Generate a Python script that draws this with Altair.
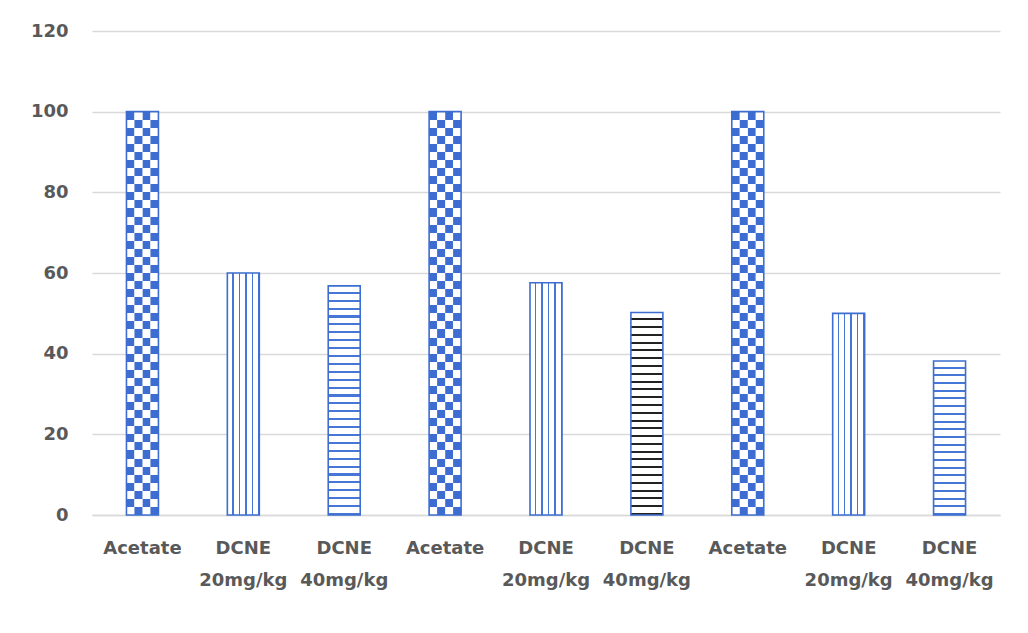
import altair as alt
import pandas as pd
import json

# ---- data ----
labels = ["Acetate", "DCNE|20mg/kg", "DCNE|40mg/kg",
          "Acetate", "DCNE|20mg/kg", "DCNE|40mg/kg",
          "Acetate", "DCNE|20mg/kg", "DCNE|40mg/kg"]
values = [100, 60, 56.8, 100, 57.6, 50.2, 100, 50, 38.2]
patterns = ["check", "vert", "horiz", "check", "vert", "horiz_black",
            "check", "vert", "horiz"]
y_ticks = [0, 20, 40, 60, 80, 100, 120]

BLUE = "#3D6DD0"
STRIPE = "#4676D6"
GRAY_TXT = "#595959"
GRID = "#D9D9D9"
FONT = "DejaVu Sans"

W, H = 908, 484
YMAX = 120
PX_PER_UNIT = H / YMAX

ids = list(range(len(values)))
df = pd.DataFrame({"id": ids, "value": values, "pattern": patterns})


def hard_stops(segments):
    stops = []
    for a, b, c in segments:
        stops.append(alt.GradientStop(offset=a, color=c))
        stops.append(alt.GradientStop(offset=b, color=c))
    return stops


def periodic(n, frac_line, line_color, bg="#ffffff"):
    segs = []
    for i in range(n):
        a = i / n
        b = (i + 1) / n
        m = a + (b - a) * (1 - frac_line)
        segs += [(a, m, bg), (m, b, line_color)]
    return hard_stops(segs)


def alternating(n, first, second):
    segs = []
    for i in range(n):
        c = first if i % 2 == 0 else second
        segs.append((i / n, (i + 1) / n, c))
    return hard_stops(segs)


label_js = json.dumps(labels)
x_enc = alt.X(
    "id:O",
    scale=alt.Scale(paddingInner=0.683, paddingOuter=0.3415),
    axis=alt.Axis(
        title=None,
        labelAngle=0,
        labelExpr=f"split({label_js}[datum.value], '|')",
        labelFont=FONT,
        labelFontWeight="bold",
        labelFontSize=18,
        labelColor=GRAY_TXT,
        labelLineHeight=32,
        labelPadding=24,
        labelOverlap=False,
        labelBaseline="top",
        ticks=False,
        domainColor=GRID,
        domainWidth=1.5,
        grid=False,
    ),
)
y_enc = alt.Y(
    "value:Q",
    scale=alt.Scale(domain=[0, YMAX]),
    axis=alt.Axis(
        title=None,
        values=y_ticks,
        labelFont=FONT,
        labelFontWeight="bold",
        labelFontSize=18,
        labelColor=GRAY_TXT,
        labelPadding=24,
        ticks=False,
        domain=False,
        gridColor=GRID,
        gridWidth=1.5,
    ),
)

layers = []
base = alt.Chart(df)

# vertical stripes (shared gradient, horizontal direction)
vert_grad = alt.LinearGradient(
    gradient="linear", x1=0, y1=0, x2=1, y2=0,
    stops=periodic(5, 0.22, STRIPE),
)
layers.append(
    base.transform_filter(alt.datum.pattern == "vert")
    .mark_bar(fill=vert_grad, strokeWidth=0)
    .encode(x=x_enc, y=y_enc)
)

# horizontal stripes, one gradient per bar (depends on bar height)
for i, (v, p) in enumerate(zip(values, patterns)):
    if p not in ("horiz", "horiz_black"):
        continue
    n = max(1, round(v * PX_PER_UNIT / 7.8))
    col = "#222222" if p == "horiz_black" else STRIPE
    grad = alt.LinearGradient(
        gradient="linear", x1=0, y1=0, x2=0, y2=1,
        stops=periodic(n, 0.26, col),
    )
    layers.append(
        base.transform_filter(alt.datum.id == i)
        .mark_bar(fill=grad, strokeWidth=0)
        .encode(x=x_enc, y=y_enc)
    )

# checkerboard: 4 sub-columns per bar, alternating row phase
n_sub = 4
check_rows = []
for i, (v, p) in enumerate(zip(values, patterns)):
    if p == "check":
        for s in range(n_sub):
            check_rows.append({"id": i, "value": v, "sub": s})
check_df = pd.DataFrame(check_rows)
n_rows = round(100 * PX_PER_UNIT / 8.07)
off_enc = alt.XOffset(
    "sub:O",
    scale=alt.Scale(domain=list(range(n_sub)), paddingInner=0, paddingOuter=0),
)
for parity in (0, 1):
    first, second = (BLUE, "#ffffff") if parity == 0 else ("#ffffff", BLUE)
    grad = alt.LinearGradient(
        gradient="linear", x1=0, y1=0, x2=0, y2=1,
        stops=alternating(n_rows, first, second),
    )
    layers.append(
        alt.Chart(check_df)
        .transform_filter(f"datum.sub % 2 == {parity}")
        .mark_bar(fill=grad, strokeWidth=0)
        .encode(x=x_enc, xOffset=off_enc, y=y_enc)
    )

# blue outline on every bar
layers.append(
    base.mark_bar(filled=False, color=BLUE, strokeWidth=1.6)
    .encode(x=x_enc, y=y_enc)
)

chart = (
    alt.layer(*layers)
    .properties(
        width=W,
        height=H,
        autosize=alt.AutoSizeParams(type="none"),
        padding={"left": 84, "top": 23, "right": 20, "bottom": 110},
        background="#ffffff",
    )
    .configure_view(stroke=None)
)

chart.save("out.html", embed_options={"renderer": "svg", "actions": False})
